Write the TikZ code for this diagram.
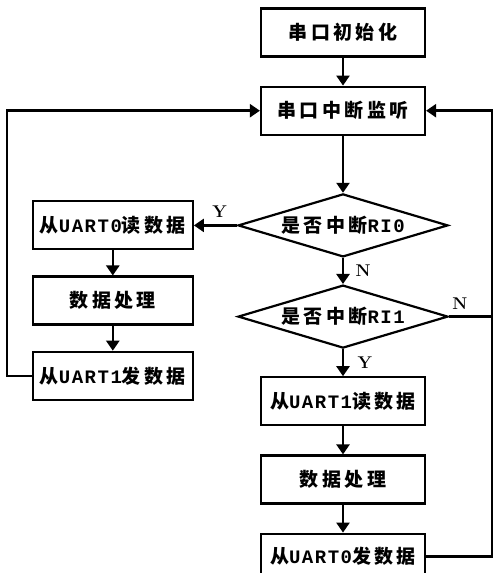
\documentclass[tikz,border=0pt]{standalone}
\usepackage{fontspec}
\newfontfamily\cjk[LetterSpace=18]{Noto Sans CJK SC}
\newfontfamily\latn[LetterSpace=8]{Liberation Mono}
\usetikzlibrary{arrows.meta, positioning, shapes.geometric}

\begin{document}
\begin{tikzpicture}[
  x=1pt, y=1pt,
  box/.style={draw, line width=2.2pt, minimum width=164pt, minimum height=48pt,
    inner sep=0pt, font=\cjk\bfseries\fontsize{19}{19}\selectfont, align=center},
  dec/.style={draw, diamond, aspect=3.33, line width=2.2pt, minimum width=210pt,
    minimum height=63pt, inner sep=0pt, font=\cjk\bfseries\fontsize{19}{19}\selectfont},
  lbl/.style={font=\bfseries\fontsize{17}{17}\selectfont},
  arr/.style={-{Triangle[length=10pt, width=13pt]}, line width=2.4pt},
  ln/.style={line width=2.4pt}
]
\useasboundingbox (0,0) rectangle (500,573);

% right column
\node[box] (init) at (343,540.5) {串口初始化};
\node[box, below=28pt of init] (listen) {串口中断监听};
\node[dec, below=57pt of listen] (rx0) {是否中断{\latn RI0}};
\node[dec, below=26pt of rx0] (rx1) {是否中断{\latn RI1}};
\node[box, below=27pt of rx1] (read1) {从{\latn UART1}读数据};
\node[box, below=28pt of read1] (proc1) {数据处理};
\node[box, below=28pt of proc1, minimum height=46pt] (send0) {从{\latn UART0}发数据};

% left column
\node[box, minimum width=160pt, left=43pt of rx0] (read0) {从{\latn UART0}读数据};
\node[box, minimum width=160pt, below=25pt of read0] (proc0) {数据处理};
\node[box, minimum width=160pt, below=25pt of proc0] (send1) {从{\latn UART1}发数据};

\coordinate (lft) at (7,0);
\coordinate (rgt) at (492,0);

\draw[arr] (init) -- (listen);
\draw[arr] (listen) -- (rx0);
\draw[arr] (rx0) -- node[lbl, right=8pt] {N} (rx1);
\draw[arr] (rx1) -- node[lbl, right=10pt] {Y} (read1);
\draw[arr] (read1) -- (proc1);
\draw[arr] (proc1) -- (send0);
\draw[arr] (rx0) -- node[lbl, above=3pt, pos=0.4] {Y} (read0);
\draw[arr] (read0) -- (proc0);
\draw[arr] (proc0) -- (send1);

% loops back
\draw[arr] (send1.west) -- (send1.west -| lft) |- (listen.west);
\draw[ln] (rx1.east) -- node[lbl, above=3pt, pos=0.25] {N} (rx1.east -| rgt);
\draw[arr] (send0.east) -- (send0.east -| rgt) |- (listen.east);
\end{tikzpicture}
\end{document}
